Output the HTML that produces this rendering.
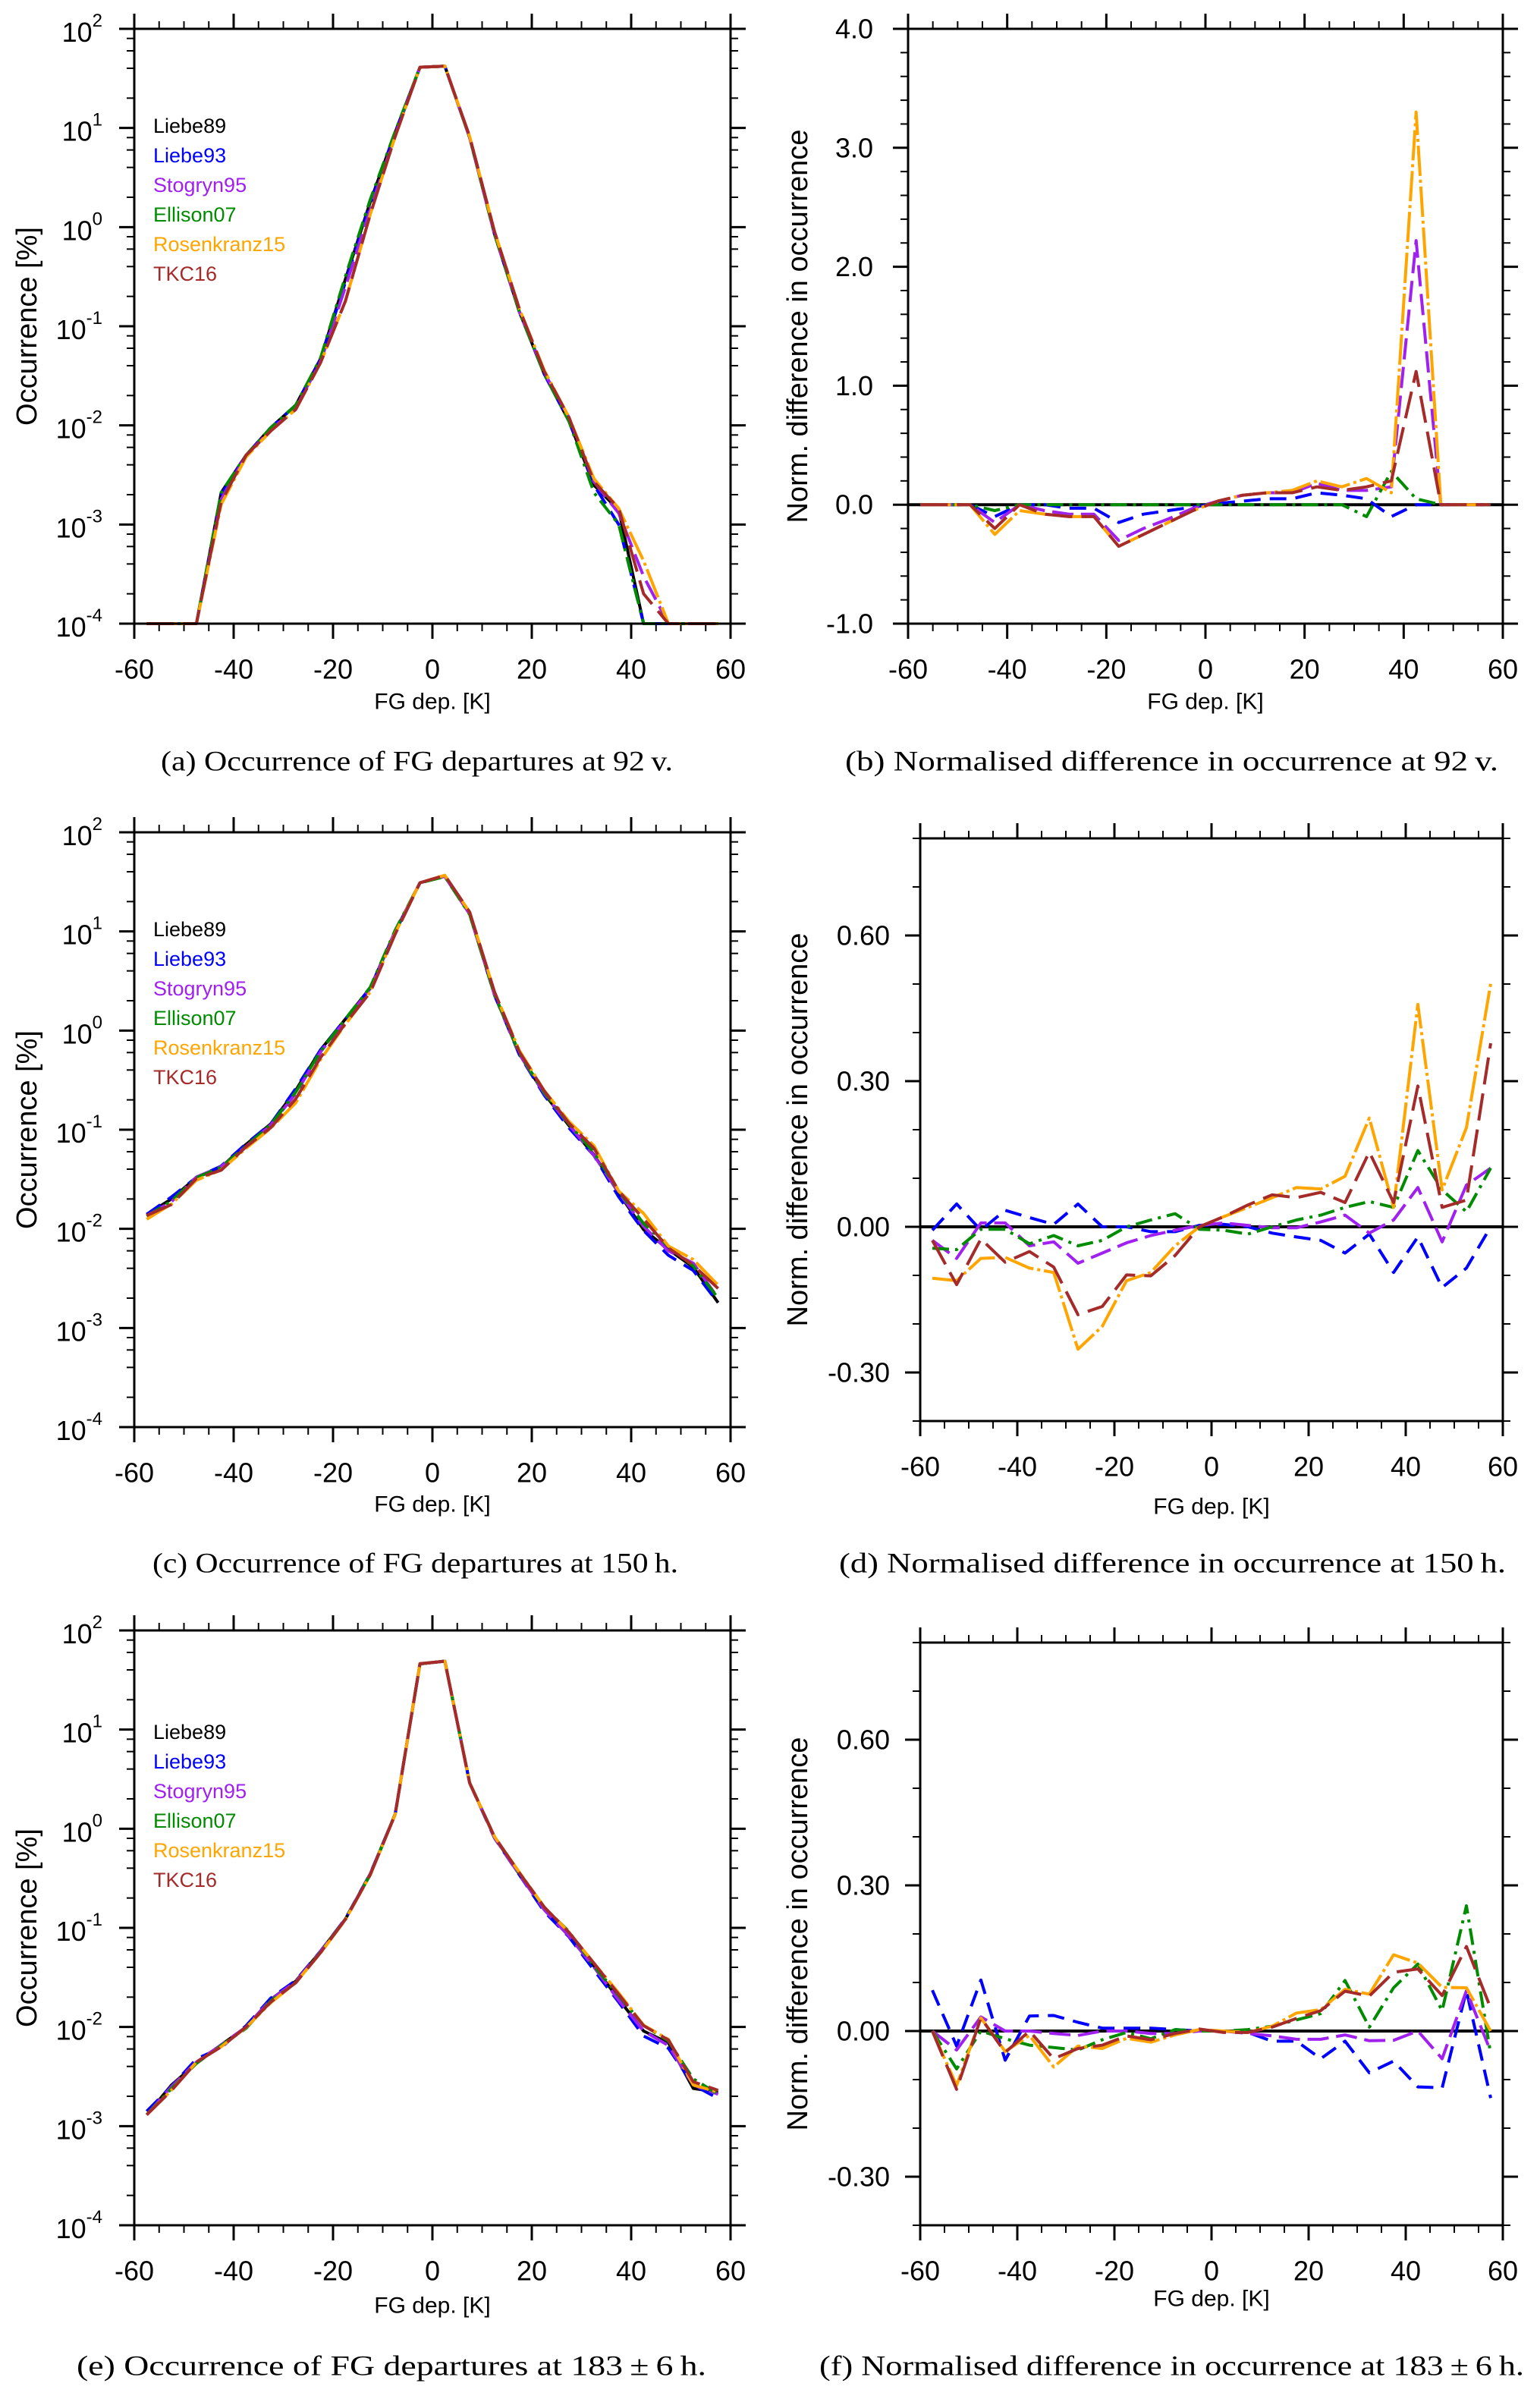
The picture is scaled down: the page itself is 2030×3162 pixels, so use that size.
<!DOCTYPE html>
<html><head><meta charset="utf-8"><title>FG departures</title>
<style>html,body{margin:0;padding:0;background:#fff}svg{display:block}</style></head>
<body>
<svg id="fig" xmlns="http://www.w3.org/2000/svg" width="2030" height="3162" viewBox="0 0 2030 3162" font-family="'Liberation Sans', sans-serif">
<rect x="0" y="0" width="2030" height="3162" fill="#fff"/>
</svg>
<script>
const fgDep = [-57.5,-52.5,-47.5,-42.5,-37.5,-32.5,-27.5,-22.5,-17.5,-12.5,-7.5,-2.5,2.5,7.5,12.5,17.5,22.5,27.5,32.5,37.5,42.5,47.5,52.5,57.5];
const xTicks = [-60,-40,-20,0,20,40,60];
const seriesNames = ["Liebe89","Liebe93","Stogryn95","Ellison07","Rosenkranz15","TKC16"];
const logTickExps = [2,1,0,-1,-2,-3,-4];
const bTicks = [4,3,2,1,0,-1];
const dfTicks = [0.6,0.3,0,-0.3];

// Panel a (92 v) occurrence [%]
const a_L89 = [1e-4,1e-4,1e-4,2.1e-3,5e-3,9.5e-3,0.016,0.047,0.3,1.8,9,41,42,8,0.85,0.14,0.033,0.011,2.5e-3,1.4e-3,1e-4,1e-4,1e-4,1e-4];
const a_L93 = [1e-4,1e-4,1e-4,2.0e-3,5e-3,9.5e-3,0.016,0.046,0.28,1.7,9,41,42,8,0.85,0.14,0.033,0.011,2.5e-3,1.0e-3,1e-4,1e-4,1e-4,1e-4];
const a_S95 = [1e-4,1e-4,1e-4,1.8e-3,5e-3,9e-3,0.015,0.044,0.25,1.5,8.5,41,42,8,0.85,0.14,0.034,0.012,2.7e-3,1.3e-3,3e-4,1e-4,1e-4,1e-4];
const a_E07 = [1e-4,1e-4,1e-4,2.1e-3,5e-3,9.5e-3,0.016,0.048,0.32,1.9,9.2,41,42,8,0.85,0.14,0.033,0.011,2.1e-3,1.0e-3,1e-4,1e-4,1e-4,1e-4];
const a_R15 = [1e-4,1e-4,1e-4,1.6e-3,4.8e-3,8.8e-3,0.0145,0.043,0.18,1.35,8.2,41,42,8.2,0.9,0.15,0.036,0.012,2.9e-3,1.45e-3,4.3e-4,1e-4,1e-4,1e-4];
const a_TKC = [1e-4,1e-4,1e-4,1.7e-3,5e-3,8.8e-3,0.0145,0.043,0.18,1.35,8.2,41,42,8.2,0.9,0.15,0.035,0.012,2.7e-3,1.45e-3,2e-4,1e-4,1e-4,1e-4];

// Panel b normalised difference
const b_L93 = [0,0,0,-0.1,0,0,-0.03,-0.03,-0.15,-0.08,-0.05,-0.02,0.01,0.03,0.05,0.05,0.1,0.08,0.05,-0.1,0,0,0,0];
const b_S95 = [0,0,0,-0.15,0,-0.05,-0.08,-0.08,-0.3,-0.2,-0.12,-0.03,0.03,0.08,0.1,0.1,0.18,0.12,0.12,0.15,2.22,0,0,0];
const b_E07 = [0,0,0,-0.05,0,0,0,0,0,0,0,0,0,0,0,0,0,0,-0.1,0.28,0.05,0,0,0];
const b_R15 = [0,0,0,-0.25,-0.05,-0.08,-0.1,-0.1,-0.35,-0.25,-0.15,-0.05,0.03,0.08,0.1,0.12,0.2,0.15,0.22,0.1,3.3,0,0,0];
const b_TKC = [0,0,0,-0.2,0,-0.08,-0.1,-0.1,-0.35,-0.25,-0.15,-0.05,0.03,0.08,0.1,0.1,0.15,0.12,0.15,0.2,1.12,0,0,0];

// Panel c (150 h)
const c_L89 = [0.014,0.02,0.033,0.042,0.071,0.115,0.25,0.64,1.31,2.7,10,31,36,15,2.3,0.58,0.23,0.11,0.056,0.023,0.0098,0.0062,0.0041,0.0018];
const c_L93 = [0.014,0.021,0.033,0.043,0.072,0.115,0.26,0.64,1.31,2.67,9.9,31,36,15,2.27,0.57,0.223,0.104,0.055,0.021,0.0096,0.0054,0.0038,0.0018];
const c_S95 = [0.0136,0.0188,0.0333,0.0424,0.068,0.112,0.232,0.61,1.27,2.65,9.9,31,36,15,2.3,0.58,0.232,0.112,0.055,0.0233,0.0106,0.006,0.0045,0.002];
const c_E07 = [0.0134,0.0191,0.0328,0.0418,0.0685,0.113,0.24,0.62,1.31,2.74,10.3,30.8,35.7,14.8,2.3,0.59,0.237,0.114,0.059,0.024,0.0113,0.0067,0.0042,0.002];
const c_R15 = [0.0125,0.0178,0.0309,0.0394,0.065,0.104,0.187,0.51,1.16,2.45,9.6,31,36.8,15.6,2.44,0.63,0.248,0.121,0.069,0.024,0.0143,0.0067,0.0049,0.0027];
const c_TKC = [0.0136,0.0176,0.0322,0.039,0.0674,0.105,0.205,0.535,1.18,2.43,9.4,31,36.8,15.7,2.45,0.61,0.246,0.116,0.065,0.024,0.0126,0.0064,0.0043,0.0025];

// Panel d
const d_L93 = [-0.007,0.047,-0.007,0.034,0.019,0.005,0.047,0,0,-0.01,-0.01,0.003,0.005,0,-0.013,-0.021,-0.028,-0.054,-0.015,-0.094,-0.021,-0.125,-0.085,0];
const d_S95 = [-0.028,-0.065,0.008,0.008,-0.039,-0.031,-0.075,-0.054,-0.033,-0.018,-0.007,0.003,0.008,0.003,-0.002,-0.002,0.01,0.024,-0.013,0.014,0.081,-0.031,0.086,0.121];
const d_E07 = [-0.044,-0.047,-0.005,-0.005,-0.035,-0.018,-0.039,-0.028,0,0.014,0.027,-0.005,-0.007,-0.015,0,0.014,0.024,0.04,0.052,0.04,0.157,0.076,0.031,0.121];
const d_R15 = [-0.106,-0.111,-0.065,-0.063,-0.085,-0.094,-0.252,-0.205,-0.111,-0.094,-0.039,0,0.021,0.04,0.06,0.081,0.078,0.104,0.224,0.04,0.458,0.076,0.204,0.501];
const d_TKC = [-0.028,-0.119,-0.025,-0.073,-0.051,-0.083,-0.181,-0.164,-0.099,-0.101,-0.059,0,0.021,0.045,0.066,0.06,0.071,0.05,0.154,0.05,0.29,0.04,0.055,0.378];

// Panel e (183 +- 6 h)
const e_L89 = [0.0013,0.0026,0.0043,0.0066,0.01,0.019,0.029,0.058,0.123,0.35,1.4,46,49,2.9,0.82,0.35,0.155,0.083,0.041,0.019,0.0091,0.0069,0.0024,0.0022];
const e_L93 = [0.00141,0.00252,0.00475,0.0062,0.0103,0.0196,0.0295,0.0583,0.124,0.352,1.4,46,49,2.89,0.803,0.343,0.146,0.081,0.0375,0.0178,0.0081,0.0061,0.0026,0.0019];
const e_S95 = [0.0013,0.0025,0.00443,0.0066,0.01,0.0189,0.0287,0.058,0.123,0.348,1.39,46,49,2.89,0.812,0.344,0.152,0.0823,0.0402,0.0186,0.0091,0.0065,0.0026,0.0021];
const e_E07 = [0.0013,0.0024,0.0043,0.0065,0.0097,0.0184,0.0279,0.057,0.123,0.344,1.4,46,49,2.91,0.83,0.358,0.161,0.0916,0.0413,0.0207,0.0104,0.0072,0.003,0.0021];
const e_R15 = [0.0013,0.00231,0.00442,0.00632,0.0099,0.0176,0.0281,0.0559,0.121,0.342,1.39,46.1,49,2.89,0.83,0.363,0.162,0.0901,0.0441,0.022,0.0104,0.0075,0.0026,0.0022];
const e_TKC = [0.0013,0.00229,0.00442,0.00631,0.01,0.0179,0.028,0.0563,0.122,0.344,1.39,46.2,48.9,2.89,0.827,0.359,0.162,0.0898,0.044,0.0213,0.0103,0.0074,0.0028,0.0023];

// Panel f
const f_L93 = [0.084,-0.031,0.105,-0.06,0.031,0.032,0.018,0.006,0.006,0.006,0.003,0,0,-0.003,-0.021,-0.021,-0.057,-0.021,-0.086,-0.062,-0.115,-0.117,0.083,-0.138];
const f_S95 = [0,-0.039,0.029,0,0,-0.005,-0.009,0,0,-0.005,-0.005,0,0,-0.005,-0.01,-0.017,-0.017,-0.008,-0.02,-0.019,0,-0.057,0.083,-0.042];
const f_E07 = [0,-0.078,0,-0.016,-0.029,-0.034,-0.039,-0.018,-0.003,-0.016,0.003,0,0,0.003,0.01,0.023,0.036,0.104,0.008,0.089,0.138,0.042,0.258,-0.047];
const f_R15 = [0,-0.112,0.027,-0.042,-0.009,-0.074,-0.031,-0.036,-0.015,-0.023,-0.008,0.003,0,-0.003,0.01,0.037,0.044,0.086,0.076,0.157,0.14,0.09,0.089,0];
const f_TKC = [0,-0.12,0.027,-0.044,0,-0.057,-0.036,-0.029,-0.01,-0.018,-0.005,0.004,-0.003,-0.003,0.008,0.026,0.042,0.082,0.072,0.121,0.128,0.073,0.174,0.047];

const NS = "http://www.w3.org/2000/svg";
const svg = document.getElementById("fig");
const colors = ["#000000","#0000ff","#a020f0","#008b00","#ffa500","#a52a2a"];
const dashes = ["", "22 12", "28 10", "22 8 4 8", "40 5 4 5", "36 12"];

function mk(tag, attrs, parent) {
  const el = document.createElementNS(NS, tag);
  for (const k in attrs) el.setAttribute(k, attrs[k]);
  (parent || svg).appendChild(el);
  return el;
}

function drawPanel(p) {
  const g = mk("g", {});
  
  
  const X = v => p.x0 + (v + 60) / 120 * p.w;
  const Y = p.log ? (v => p.y0 + (2 - Math.log10(v)) / 6 * p.h)
                  : (v => p.y0 + (p.ymax - v) / (p.ymax - p.ymin) * p.h);
  const x1 = p.x0 + p.w, y1 = p.y0 + p.h;
  for (let v = -60; v <= 60; v += 5) {
    const maj = v % 20 === 0, L = maj ? 20 : 10, sw = maj ? 3 : 2;
    const t1 = mk("line", {x1:X(v), x2:X(v), y1:y1, y2:y1+L, stroke:"#000", "stroke-width":sw}, g);
    
    
    const t2 = mk("line", {x1:X(v), x2:X(v), y1:p.y0, y2:p.y0-L, stroke:"#000", "stroke-width":sw}, g);
    
    
  }
  xTicks.forEach(v => {
    const t = mk("text", {x:X(v), y:y1+60, "font-size":36, "text-anchor":"middle", "dominant-baseline":"central"}, g);
    t.textContent = String(v);
    
    
  });
  const yt = [];
  if (p.log) {
    for (let e = -4; e <= 2; e++) {
      yt.push([Math.pow(10, e), true]);
      if (e < 2) [2,4,6,8].forEach(m => yt.push([m * Math.pow(10, e), false]));
    }
  } else {
    const n = Math.round((p.ymax - p.ymin) / p.minor);
    for (let i = 0; i <= n; i++) {
      const v = p.ymin + i * p.minor;
      const maj = p.majors.some(m => Math.abs(m - v) < 1e-6);
      yt.push([v, maj]);
    }
  }
  yt.forEach(([v, maj]) => {
    const L = maj ? 20 : 10, sw = maj ? 3 : 2;
    const t1 = mk("line", {x1:p.x0, x2:p.x0-L, y1:Y(v), y2:Y(v), stroke:"#000", "stroke-width":sw}, g);
    
    
    const t2 = mk("line", {x1:x1, x2:x1+L, y1:Y(v), y2:Y(v), stroke:"#000", "stroke-width":sw}, g);
    
    
  });
  if (p.log) {
    logTickExps.forEach(e => {
      const t = mk("text", {x:p.x0-42, y:Y(Math.pow(10,e))+17, "font-size":36, "text-anchor":"end"}, g);
      const s1 = mk("tspan", {}, t); s1.textContent = "10";
      const s2 = mk("tspan", {"font-size":24, dy:-20}, t); s2.textContent = String(e);
      
      
    });
  } else {
    p.majors.forEach(v => {
      const t = mk("text", {x:p.x0-p.lblGap, y:Y(v), "font-size":36, "text-anchor":"end", "dominant-baseline":"central"}, g);
      t.textContent = v.toFixed(p.dec);
      
      
    });
  }
  const clipId = "clip-" + p.id;
  const cp = mk("clipPath", {id:clipId}, g);
  mk("rect", {x:p.x0-4, y:p.y0-4, width:p.w+8, height:p.h+8}, cp);
  p.series.forEach((s, k) => {
    if (!s.data) {
      const z = mk("line", {x1:p.x0, x2:x1, y1:Y(0), y2:Y(0), stroke:"#000", "stroke-width":4}, g);
      
      
      return;
    }
    const pts = fgDep.map((x, i) => X(x).toFixed(1) + "," + Y(s.data[i]).toFixed(1)).join(" ");
    const pl = mk("polyline", {points:pts, fill:"none", stroke:colors[s.c], "stroke-width":4,
      "stroke-linejoin":"round", "clip-path":"url(#"+clipId+")"}, g);
    if (dashes[s.c]) pl.setAttribute("stroke-dasharray", dashes[s.c]);
    
    
  });
  const fr = mk("rect", {x:p.x0, y:p.y0, width:p.w, height:p.h, fill:"none", stroke:"#000", "stroke-width":3}, g);
  
  
  const xt = mk("text", {x:p.x0+p.w/2, y:y1+p.xtOff, "font-size":30, "text-anchor":"middle", "dominant-baseline":"central"}, g);
  xt.textContent = "FG dep. [K]";
  
  
  const ycy = p.y0 + p.h/2;
  const yti = mk("text", {x:p.ytX, y:ycy, "font-size":38, "text-anchor":"middle", "dominant-baseline":"central",
    transform:"rotate(-90 "+p.ytX+" "+ycy+")"}, g);
  yti.textContent = p.log ? "Occurrence [%]" : "Norm. difference in occurrence";
  
  
  if (p.legendY) {
    seriesNames.forEach((n, i) => {
      const t = mk("text", {x:202, y:p.legendY + i*39, "font-size":27, fill:colors[i]}, g);
      t.textContent = n;
      
      
    });
  }
  const cap = mk("text", {x:p.capX, y:p.capY, "font-size":37, "font-family":"'Liberation Serif', serif",
    "dominant-baseline":"central", textLength:p.capW, lengthAdjust:"spacingAndGlyphs"}, g);
  cap.textContent = p.caption;
  
  
}

const diffSeries = (L93,S95,E07,R15,TKC) => [{c:0},{c:1,data:L93},{c:2,data:S95},{c:3,data:E07},{c:4,data:R15},{c:5,data:TKC}];
const occSeries = (L89,L93,S95,E07,R15,TKC) => [{c:0,data:L89},{c:1,data:L93},{c:2,data:S95},{c:3,data:E07},{c:4,data:R15},{c:5,data:TKC}];

drawPanel({id:"a", x0:177, y0:38, w:786, h:784, log:true, ytX:36, xtOff:103, legendY:175,
  capX:212, capY:1004, capW:675, caption:"(a) Occurrence of FG departures at 92\u2009v.",
  series:occSeries(a_L89,a_L93,a_S95,a_E07,a_R15,a_TKC)});
drawPanel({id:"b", x0:1197, y0:38, w:784, h:784, log:false, ymin:-1, ymax:4, minor:0.2, majors:bTicks, dec:1, lblGap:46,
  ytX:1052, xtOff:103, capX:1114, capY:1004, capW:861, caption:"(b) Normalised difference in occurrence at 92\u2009v.",
  series:diffSeries(b_L93,b_S95,b_E07,b_R15,b_TKC)});
drawPanel({id:"c", x0:177, y0:1097, w:786, h:784, log:true, ytX:36, xtOff:102, legendY:1234,
  capX:201, capY:2061, capW:693, caption:"(c) Occurrence of FG departures at 150\u2009h.",
  series:occSeries(c_L89,c_L93,c_S95,c_E07,c_R15,c_TKC)});
drawPanel({id:"d", x0:1213, y0:1105, w:768, h:768, log:false, ymin:-0.4, ymax:0.8, minor:0.1, majors:dfTicks, dec:2, lblGap:40,
  ytX:1052, xtOff:113, capX:1106, capY:2061, capW:879, caption:"(d) Normalised difference in occurrence at 150\u2009h.",
  series:diffSeries(d_L93,d_S95,d_E07,d_R15,d_TKC)});
drawPanel({id:"e", x0:177, y0:2149, w:786, h:784, log:true, ytX:36, xtOff:106, legendY:2292,
  capX:101, capY:3119, capW:830, caption:"(e) Occurrence of FG departures at 183\u2009\u00b1\u20096\u2009h.",
  series:occSeries(e_L89,e_L93,e_S95,e_E07,e_R15,e_TKC)});
drawPanel({id:"f", x0:1213, y0:2165, w:768, h:768, log:false, ymin:-0.4, ymax:0.8, minor:0.1, majors:dfTicks, dec:2, lblGap:40,
  ytX:1052, xtOff:97, capX:1080, capY:3119, capW:929, caption:"(f) Normalised difference in occurrence at 183\u2009\u00b1\u20096\u2009h.",
  series:diffSeries(f_L93,f_S95,f_E07,f_R15,f_TKC)});
</script>
</body></html>
